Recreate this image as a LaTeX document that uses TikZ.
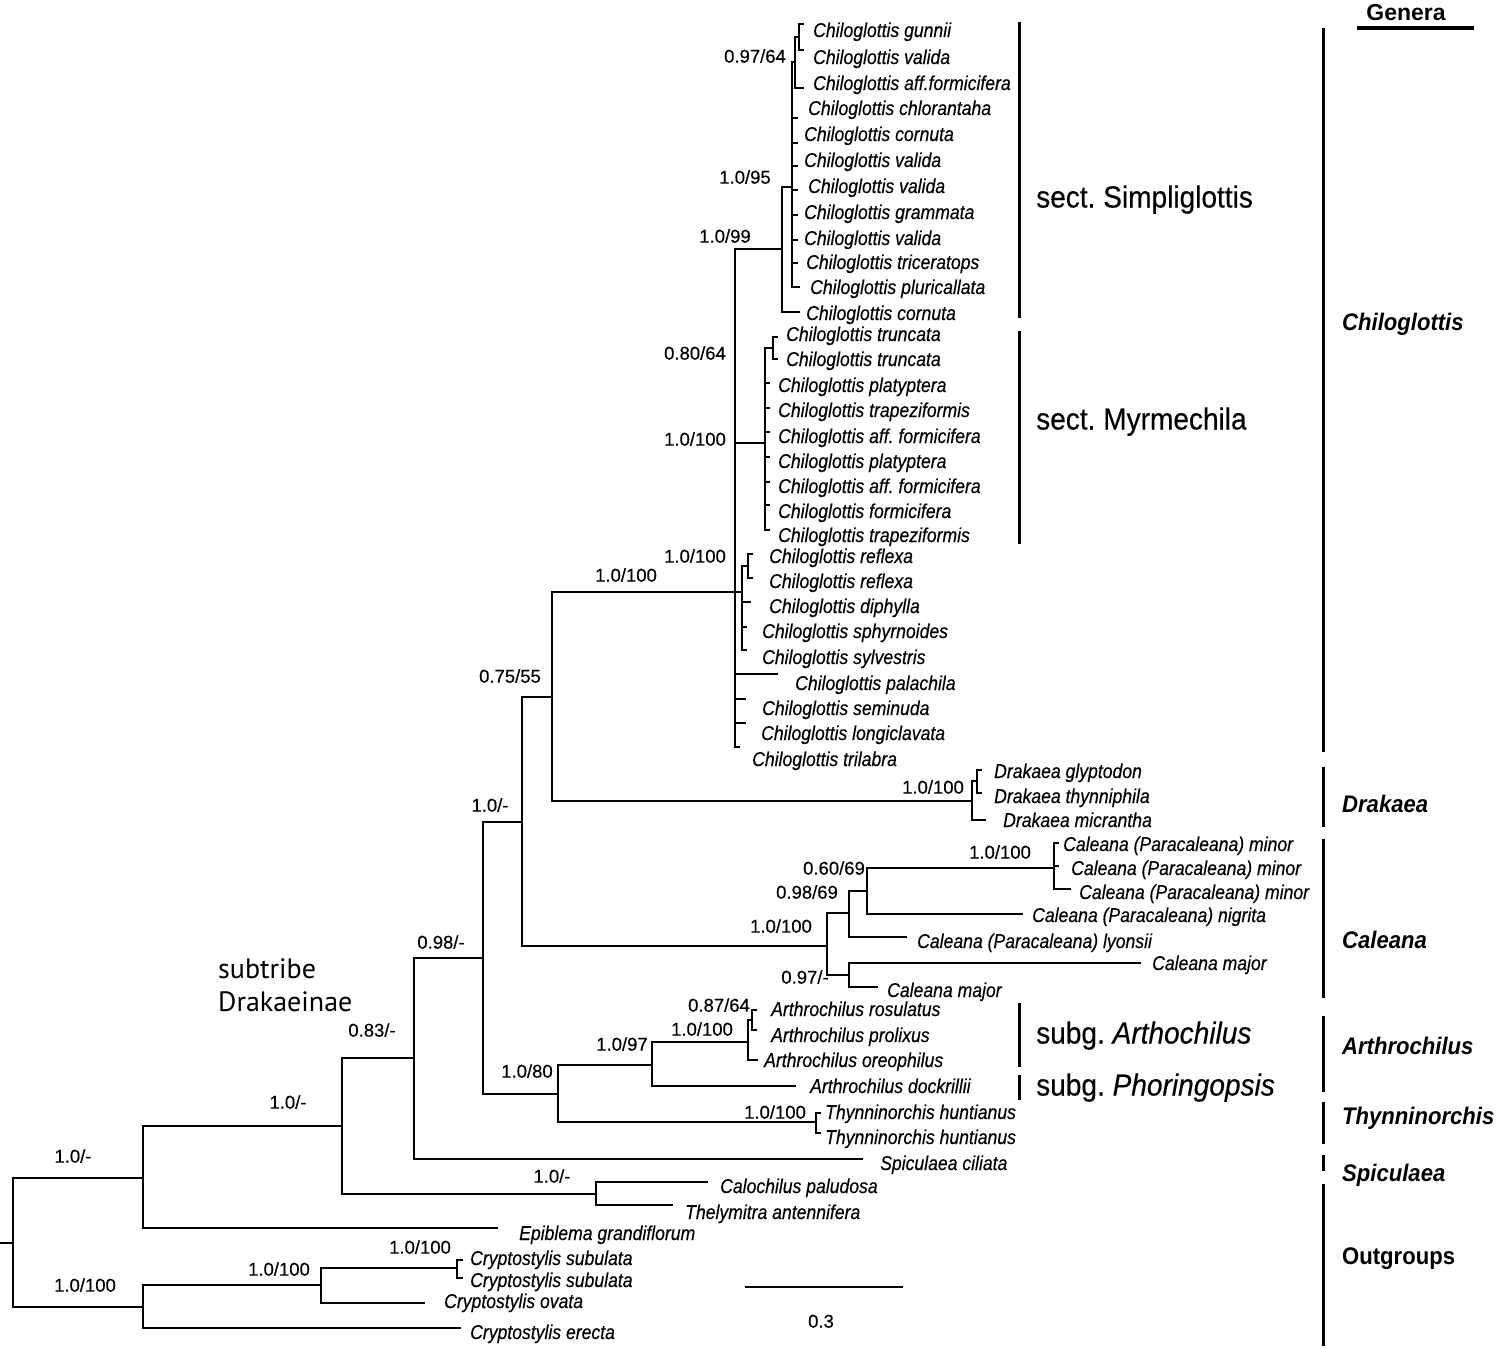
\documentclass[tikz,border=0pt]{standalone}
\usepackage{fontspec}
\setmainfont{Liberation Sans}
\newfontfamily\taxfont[FakeStretch=0.88,FakeBold=0.35]{Liberation Sans}
\newfontfamily\supfont[FakeBold=0.3]{Liberation Sans}
\newfontfamily\secfont[FakeStretch=0.92,FakeBold=0.3]{Liberation Sans}
\newfontfamily\genfont[FakeStretch=0.92]{Liberation Sans}
\newfontfamily\myrfont{PT Sans}
\frenchspacing
\begin{document}
\begin{tikzpicture}[x=1pt,y=-1pt,
 branch/.style={line width=2.6pt, line cap=rect, line join=miter},
 bar/.style={line width=3pt},
 taxon/.style={font=\taxfont\itshape\fontsize{20}{22}\selectfont, anchor=west, inner sep=0pt, text height=14pt, text depth=0pt},
 supp/.style={font=\supfont\fontsize{18.5}{20}\selectfont, inner sep=0pt, text height=13.3pt, text depth=0pt},
 genus/.style={font=\genfont\bfseries\itshape\fontsize{24}{26}\selectfont, anchor=west, inner sep=0pt, text height=17pt, text depth=0pt},
 sect/.style={font=\secfont\fontsize{30.5}{32}\selectfont, anchor=west, inner sep=0pt, text height=21pt, text depth=0pt}]
\useasboundingbox (0,0) rectangle (1500,1349);

% ---------- internal nodes ----------
\coordinate (R0) at (0,1243);
\coordinate (R) at (13,1243);
\coordinate (N1) at (143,1178);
\coordinate (N2) at (342,1126);
\coordinate (N3) at (414,1058);
\coordinate (N4) at (483,958);
\coordinate (N5) at (522,822);
\coordinate (N6) at (552,697);
\coordinate (C0) at (735,592);
\coordinate (S) at (782,249);
\coordinate (D) at (792,187);
\coordinate (A) at (795,62);
\coordinate (B) at (799,37);
\coordinate (E) at (765,443);
\coordinate (T) at (773,348);
\coordinate (F) at (742,592);
\coordinate (P) at (748,566);
\coordinate (Dk) at (972,801);
\coordinate (Q) at (977,781);
\coordinate (Ca) at (827,946);
\coordinate (Cb) at (849,913);
\coordinate (Cd) at (867,891);
\coordinate (Ce) at (1054,868);
\coordinate (Cc) at (849,975);
\coordinate (AT) at (558,1094);
\coordinate (Ar) at (652,1065);
\coordinate (Ar2) at (748,1042);
\coordinate (Ar3) at (752,1020);
\coordinate (Thy) at (816,1122);
\coordinate (Cal) at (596,1194);
\coordinate (N7) at (143,1307);
\coordinate (Cr) at (321,1285);
\coordinate (Cs) at (457,1268);

% ---------- tips ----------
\coordinate (t1) at (803,24);
\coordinate (t2) at (803,50);
\coordinate (t3) at (803,88);
\coordinate (t4) at (797,118);
\coordinate (t5) at (797,143);
\coordinate (t6) at (797,166);
\coordinate (t7) at (797,190);
\coordinate (t8) at (797,215);
\coordinate (t9) at (797,240);
\coordinate (t10) at (797,263);
\coordinate (t11) at (799,287);
\coordinate (t12) at (799,312);
\coordinate (t13) at (777,337);
\coordinate (t14) at (777,359);
\coordinate (t15) at (769,383);
\coordinate (t16) at (769,408);
\coordinate (t17) at (769,432);
\coordinate (t18) at (769,457);
\coordinate (t19) at (769,482);
\coordinate (t20) at (769,505);
\coordinate (t21) at (769,530);
\coordinate (t22) at (752,554);
\coordinate (t23) at (752,578);
\coordinate (t24) at (750,602);
\coordinate (t25) at (746,627);
\coordinate (t26) at (746,650);
\coordinate (t27) at (777,674);
\coordinate (t28) at (745,699);
\coordinate (t29) at (745,723);
\coordinate (t30) at (739,747);
\coordinate (t31) at (981,770);
\coordinate (t32) at (981,793);
\coordinate (t33) at (985,820);
\coordinate (t34) at (1058,843);
\coordinate (t35) at (1058,866);
\coordinate (t36) at (1070,889);
\coordinate (t37) at (1022,914);
\coordinate (t38) at (906,937);
\coordinate (t39) at (1140,963);
\coordinate (t40) at (877,987);
\coordinate (t41) at (756,1010);
\coordinate (t42) at (756,1030);
\coordinate (t43) at (757,1060);
\coordinate (t44) at (795,1086);
\coordinate (t45) at (820,1113);
\coordinate (t46) at (820,1133);
\coordinate (t47) at (862,1159);
\coordinate (t48) at (707,1182);
\coordinate (t49) at (672,1205);
\coordinate (t50) at (497,1228);
\coordinate (t51) at (462,1260);
\coordinate (t52) at (462,1278);
\coordinate (t53) at (424,1303);
\coordinate (t54) at (460,1328);

% ---------- branches ----------
\draw[branch] (R0) -- (R);
\foreach \p/\c in {R/N1,R/N7,N1/N2,N1/t50,N2/N3,N2/Cal,N3/N4,N3/t47,N4/N5,N4/AT,
  N5/N6,N5/Ca,N6/C0,N6/Dk,C0/S,C0/E,C0/F,C0/t27,C0/t28,C0/t29,C0/t30,
  S/D,S/t12,D/A,D/t4,D/t5,D/t6,D/t7,D/t8,D/t9,D/t10,D/t11,A/B,A/t3,B/t1,B/t2,
  E/T,E/t15,E/t16,E/t17,E/t18,E/t19,E/t20,E/t21,T/t13,T/t14,
  F/P,F/t24,F/t25,F/t26,P/t22,P/t23,
  Dk/Q,Dk/t33,Q/t31,Q/t32,
  Ca/Cb,Ca/Cc,Cb/Cd,Cb/t38,Cd/Ce,Cd/t37,Ce/t34,Ce/t35,Ce/t36,Cc/t39,Cc/t40,
  AT/Ar,AT/Thy,Ar/Ar2,Ar/t44,Ar2/Ar3,Ar2/t43,Ar3/t41,Ar3/t42,Thy/t45,Thy/t46,
  Cal/t48,Cal/t49,N7/Cr,N7/t54,Cr/Cs,Cr/t53,Cs/t51,Cs/t52}
  \draw[branch] (\p) |- (\c);

% ---------- taxon labels ----------
\node[taxon] (l1) at (813,30) {Chiloglottis gunnii};
\node[taxon] (l2) at (813,57) {Chiloglottis valida};
\node[taxon] (l3) at (813,83) {Chiloglottis aff.formicifera};
\node[taxon] (l4) at (808,108) {Chiloglottis chlorantaha};
\node[taxon] (l5) at (804,134) {Chiloglottis cornuta};
\node[taxon] (l6) at (804,160) {Chiloglottis valida};
\node[taxon] (l7) at (808,186) {Chiloglottis valida};
\node[taxon] (l8) at (804,212) {Chiloglottis grammata};
\node[taxon] (l9) at (804,238) {Chiloglottis valida};
\node[taxon] (l10) at (806,262) {Chiloglottis triceratops};
\node[taxon] (l11) at (810,287) {Chiloglottis pluricallata};
\node[taxon] (l12) at (806,313) {Chiloglottis cornuta};
\node[taxon] (l13) at (786,334) {Chiloglottis truncata};
\node[taxon] (l14) at (786,359) {Chiloglottis truncata};
\node[taxon] (l15) at (778,385) {Chiloglottis platyptera};
\node[taxon] (l16) at (778,410) {Chiloglottis trapeziformis};
\node[taxon] (l17) at (778,436) {Chiloglottis aff. formicifera};
\node[taxon] (l18) at (778,461) {Chiloglottis platyptera};
\node[taxon] (l19) at (778,486) {Chiloglottis aff. formicifera};
\node[taxon] (l20) at (778,511) {Chiloglottis formicifera};
\node[taxon] (l21) at (778,535) {Chiloglottis trapeziformis};
\node[taxon] (l22) at (769,556) {Chiloglottis reflexa};
\node[taxon] (l23) at (769,581) {Chiloglottis reflexa};
\node[taxon] (l24) at (769,606) {Chiloglottis diphylla};
\node[taxon] (l25) at (762,631) {Chiloglottis sphyrnoides};
\node[taxon] (l26) at (762,657) {Chiloglottis sylvestris};
\node[taxon] (l27) at (795,683) {Chiloglottis palachila};
\node[taxon] (l28) at (762,708) {Chiloglottis seminuda};
\node[taxon] (l29) at (761,733) {Chiloglottis longiclavata};
\node[taxon] (l30) at (752,759) {Chiloglottis trilabra};
\node[taxon] (l31) at (994,771) {Drakaea glyptodon};
\node[taxon] (l32) at (994,796) {Drakaea thynniphila};
\node[taxon] (l33) at (1003,820) {Drakaea micrantha};
\node[taxon] (l34) at (1063,844) {Caleana (Paracaleana) minor};
\node[taxon] (l35) at (1071,868) {Caleana (Paracaleana) minor};
\node[taxon] (l36) at (1079,892) {Caleana (Paracaleana) minor};
\node[taxon] (l37) at (1032,915) {Caleana (Paracaleana) nigrita};
\node[taxon] (l38) at (917,941) {Caleana (Paracaleana) lyonsii};
\node[taxon] (l39) at (1152,963) {Caleana major};
\node[taxon] (l40) at (887,990) {Caleana major};
\node[taxon] (l41) at (771,1009) {Arthrochilus rosulatus};
\node[taxon] (l42) at (771,1035) {Arthrochilus prolixus};
\node[taxon] (l43) at (764,1060) {Arthrochilus oreophilus};
\node[taxon] (l44) at (810,1086) {Arthrochilus dockrillii};
\node[taxon] (l45) at (825,1112) {Thynninorchis huntianus};
\node[taxon] (l46) at (825,1137) {Thynninorchis huntianus};
\node[taxon] (l47) at (880,1163) {Spiculaea ciliata};
\node[taxon] (l48) at (720,1186) {Calochilus paludosa};
\node[taxon] (l49) at (685,1212) {Thelymitra antennifera};
\node[taxon] (l50) at (519,1233) {Epiblema grandiflorum};
\node[taxon] (l51) at (470,1258) {Cryptostylis subulata};
\node[taxon] (l52) at (470,1280) {Cryptostylis subulata};
\node[taxon] (l53) at (444,1301) {Cryptostylis ovata};
\node[taxon] (l54) at (470,1332) {Cryptostylis erecta};

% ---------- support values ----------
\node[supp] (s1) at (755,56) {0.97/64};
\node[supp] (s2) at (745,177) {1.0/95};
\node[supp] (s3) at (725,236) {1.0/99};
\node[supp] (s4) at (695,353) {0.80/64};
\node[supp] (s5) at (695,439) {1.0/100};
\node[supp] (s6) at (695,556) {1.0/100};
\node[supp] (s7) at (626,575) {1.0/100};
\node[supp] (s8) at (510,676) {0.75/55};
\node[supp] (s9) at (490,805) {1.0/-};
\node[supp] (s10) at (933,787) {1.0/100};
\node[supp] (s11) at (1000,852) {1.0/100};
\node[supp] (s12) at (834,868) {0.60/69};
\node[supp] (s13) at (807,892) {0.98/69};
\node[supp] (s14) at (781,926) {1.0/100};
\node[supp] (s15) at (805,977) {0.97/-};
\node[supp] (s16) at (441,942) {0.98/-};
\node[supp] (s17) at (719,1005) {0.87/64};
\node[supp] (s18) at (702,1029) {1.0/100};
\node[supp] (s19) at (622,1044) {1.0/97};
\node[supp] (s20) at (527,1071) {1.0/80};
\node[supp] (s21) at (775,1112) {1.0/100};
\node[supp] (s22) at (372,1030) {0.83/-};
\node[supp] (s23) at (288,1102) {1.0/-};
\node[supp] (s24) at (552,1176) {1.0/-};
\node[supp] (s25) at (73,1156) {1.0/-};
\node[supp] (s26) at (420,1247) {1.0/100};
\node[supp] (s27) at (279,1269) {1.0/100};
\node[supp] (s28) at (85,1285) {1.0/100};

% ---------- subtribe ----------
\node[anchor=west, align=left, inner sep=0pt, font=\myrfont\fontsize{28}{33}\selectfont] (sub) at (218,985) {subtribe\\Drakaeinae};

% ---------- section / subgenus bars ----------
\draw[bar] (1019,22) -- (1019,318);
\draw[bar] (1019,331) -- (1019,544);
\draw[bar] (1019,1003) -- (1019,1067);
\draw[bar] (1019,1075) -- (1019,1100);
\node[sect] (sec1) at (1036,197) {sect. Simpliglottis};
\node[sect] (sec2) at (1036,419) {sect. Myrmechila};
\node[sect] (sec3) at (1036,1033) {subg. \textit{Arthochilus}};
\node[sect] (sec4) at (1036,1085) {subg. \textit{Phoringopsis}};

% ---------- genera ----------
\node[font=\bfseries\fontsize{23}{25}\selectfont, inner sep=0pt] (gen) at (1406,13) {Genera};
\draw[line width=4.5pt] (1357,28) -- (1474,28);
\draw[bar] (1323,28) -- (1323,752);
\draw[bar] (1323,767) -- (1323,827);
\draw[bar] (1323,839) -- (1323,998);
\draw[bar] (1323,1016) -- (1323,1092);
\draw[bar] (1323,1102) -- (1323,1144);
\draw[bar] (1323,1155) -- (1323,1171);
\draw[bar] (1323,1184) -- (1323,1346);
\node[genus] (g1) at (1342,322) {Chiloglottis};
\node[genus] (g2) at (1342,804) {Drakaea};
\node[genus] (g3) at (1342,940) {Caleana};
\node[genus] (g4) at (1342,1046) {Arthrochilus};
\node[genus] (g5) at (1342,1116) {Thynninorchis};
\node[genus] (g6) at (1342,1173) {Spiculaea};
\node[genus, font=\genfont\bfseries\fontsize{24}{26}\selectfont] (g7) at (1342,1256) {Outgroups};

% ---------- scale bar ----------
\coordinate (sbL) at (745,1287);
\coordinate (sbR) at (903,1287);
\draw[line width=2.2pt] (sbL) -- (sbR);
\node[supp] (sbt) at (821,1321) {0.3};
\end{tikzpicture}
\end{document}
